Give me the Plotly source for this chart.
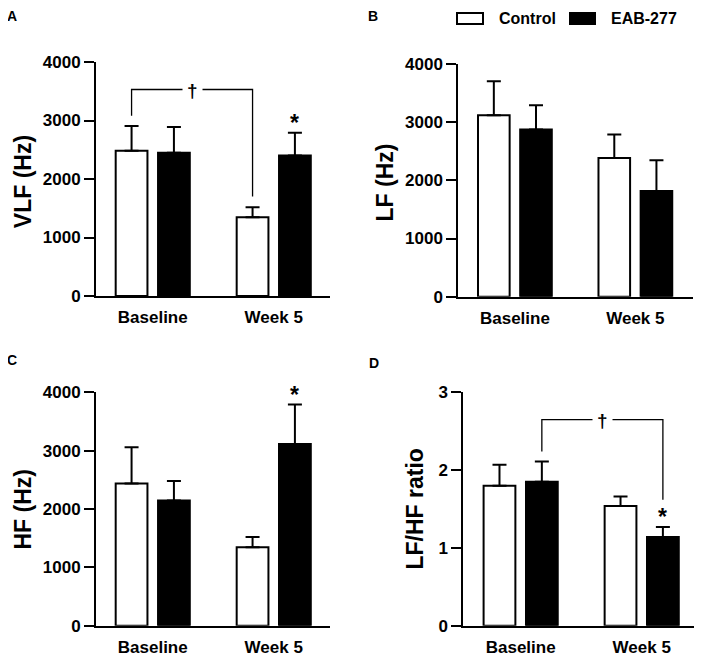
import plotly.graph_objects as go

# the page puts the plot 8px in from the top-left corner, so the figure is drawn
# a bit smaller and every position below is given in window pixels
PAD = 8
W, H = 702 - PAD, 657 - PAD
FONT = "Arial, Liberation Sans, sans-serif"

groups = ["Baseline", "Week 5"]
series_names = ["Control", "EAB-277"]
series_fill = ["white", "black"]

# values (mean, upper SEM)
vlf_control = [2485, 1345]
vlf_control_sem = [420, 170]
vlf_eab = [2450, 2400]
vlf_eab_sem = [440, 390]

lf_control = [3120, 2385]
lf_control_sem = [585, 405]
lf_eab = [2875, 1815]
lf_eab_sem = [415, 530]

hf_control = [2435, 1345]
hf_control_sem = [625, 175]
hf_eab = [2145, 3115]
hf_eab_sem = [335, 675]

ratio_control = [1.80, 1.54]
ratio_control_sem = [0.27, 0.12]
ratio_eab = [1.85, 1.14]
ratio_eab_sem = [0.26, 0.13]

# significance marks: (group index, series index)
vlf_stars = [(1, 1)]
hf_stars = [(1, 1)]
ratio_stars = [(1, 1)]

# brackets: (group a, series a, group b, series b, bar height, end a, end b)
vlf_brackets = [(0, 0, 1, 0, 3530, 3080, 1700)]
ratio_brackets = [(0, 1, 1, 1, 2.65, 2.24, 1.62)]

BARGAP = 0.3
BARGROUPGAP = 0.25
OFFSET = (1 - BARGAP) / 4


def fx(p):
    return (p - PAD) / W


def fy(p):
    return 1 - (p - PAD) / H


panels = [
    dict(name="A", title="VLF (Hz)", data=[(vlf_control, vlf_control_sem), (vlf_eab, vlf_eab_sem)],
         stars=vlf_stars, brackets=vlf_brackets,
         xdom=[96, 330], ydom=[296, 62], xr=[-0.469, 1.465], yr=[0, 4000], dtick=1000,
         title_pos=(22.5, 181.7), letter_pos=(12, 16.5)),
    dict(name="B", title="LF (Hz)", data=[(lf_control, lf_control_sem), (lf_eab, lf_eab_sem)],
         stars=[], brackets=[],
         xdom=[458.3, 692.7], ydom=[296.7, 64], xr=[-0.470, 1.476], yr=[0, 4000], dtick=1000,
         title_pos=(384, 182.5), letter_pos=(373, 16.5)),
    dict(name="C", title="HF (Hz)", data=[(hf_control, hf_control_sem), (hf_eab, hf_eab_sem)],
         stars=hf_stars, brackets=[],
         xdom=[96, 330], ydom=[625.7, 392.3], xr=[-0.469, 1.465], yr=[0, 4000], dtick=1000,
         title_pos=(22.5, 510), letter_pos=(11.5, 360)),
    dict(name="D", title="LF/HF ratio", data=[(ratio_control, ratio_control_sem), (ratio_eab, ratio_eab_sem)],
         stars=ratio_stars, brackets=ratio_brackets,
         xdom=[463.3, 694], ydom=[625.7, 392.3], xr=[-0.474, 1.432], yr=[0, 3], dtick=1,
         title_pos=(414.5, 509), letter_pos=(373.5, 363)),
]

fig = go.Figure()
layout = {}
annotations = []
shapes = []

for i, p in enumerate(panels):
    n = "" if i == 0 else str(i + 1)
    xa, ya = "x" + n, "y" + n
    xs = list(range(len(groups)))
    for s, (vals, sem) in enumerate(p["data"]):
        fig.add_trace(go.Bar(
            x=xs, y=vals, xaxis=xa, yaxis=ya, name=series_names[s], showlegend=False,
            marker=dict(color=series_fill[s], line=dict(color="black", width=2)),
            error_y=dict(type="data", symmetric=False, array=sem, arrayminus=[0] * len(sem),
                         color="black", thickness=2, width=7),
        ))
    layout["xaxis" + n] = dict(
        domain=[fx(p["xdom"][0]), fx(p["xdom"][1])], range=p["xr"], anchor=ya, automargin=False,
        tickvals=xs, ticktext=groups, ticks="", showline=True, linecolor="black", linewidth=2,
        showgrid=False, zeroline=False, tickfont=dict(size=17, weight="bold", color="black"),
        ticklabelstandoff=5,
    )
    layout["yaxis" + n] = dict(
        domain=[fy(p["ydom"][0]), fy(p["ydom"][1])], range=p["yr"], anchor=xa, automargin=False,
        tick0=0, dtick=p["dtick"], ticks="outside", ticklen=10, tickwidth=2, tickcolor="black",
        showline=True, linecolor="black", linewidth=2, showgrid=False, zeroline=False,
        tickfont=dict(size=17, weight="bold", color="black"),
    )
    tx, ty = p["title_pos"]
    annotations.append(dict(text=p["title"], x=fx(tx), y=fy(ty), xref="paper", yref="paper",
                            textangle=-90, showarrow=False, xanchor="center", yanchor="middle",
                            font=dict(size=23, weight="bold", color="black")))
    lx, ly = p["letter_pos"]
    annotations.append(dict(text=p["name"], x=fx(lx), y=fy(ly), xref="paper", yref="paper",
                            showarrow=False, xanchor="center", yanchor="middle",
                            font=dict(size=14, weight="bold", color="black")))

    def bar_x(g, s):
        return g + (2 * s - 1) * OFFSET

    for g, s in p["stars"]:
        vals, sem = p["data"][s]
        annotations.append(dict(text="*", x=bar_x(g, s), y=vals[g] + sem[g], xref=xa, yref=ya,
                                showarrow=False, xanchor="center", yanchor="middle", yshift=10,
                                font=dict(size=23, weight="bold", color="black")))
    for ga, sa, gb, sb, top, ea, eb in p["brackets"]:
        x0, x1 = bar_x(ga, sa), bar_x(gb, sb)
        fig.add_trace(go.Scatter(x=[x0, x0, x1, x1], y=[ea, top, top, eb], mode="lines",
                                 line=dict(color="black", width=1.3), xaxis=xa, yaxis=ya,
                                 showlegend=False, hoverinfo="skip"))
        annotations.append(dict(text="†", x=(x0 + x1) / 2, y=top, xref=xa, yref=ya,
                                showarrow=False, xanchor="center", yanchor="middle", yshift=-1,
                                bgcolor="white", borderpad=4,
                                font=dict(size=19, weight="bold", color="black")))

# legend drawn by hand (wide boxes like the original)
legend_items = [(457, 483, 497), (570, 595, 609)]
for (bx0, bx1, tx0), name, fill in zip(legend_items, series_names, series_fill):
    shapes.append(dict(type="rect", xref="paper", yref="paper", x0=fx(bx0), x1=fx(bx1),
                       y0=fy(24), y1=fy(13), line=dict(color="black", width=2), fillcolor=fill))
    annotations.append(dict(text=name, x=fx(tx0), y=fy(18.5), xref="paper", yref="paper",
                            showarrow=False, xanchor="left", yanchor="middle",
                            font=dict(size=16, weight="bold", color="black")))

fig.update_layout(
    width=W, height=H, margin=dict(l=0, r=0, t=0, b=0),
    paper_bgcolor="white", plot_bgcolor="white",
    font=dict(family=FONT, color="black"),
    barmode="group", bargap=BARGAP, bargroupgap=BARGROUPGAP,
    annotations=annotations, shapes=shapes, showlegend=False,
    **layout,
)

fig.write_html("out.html")
